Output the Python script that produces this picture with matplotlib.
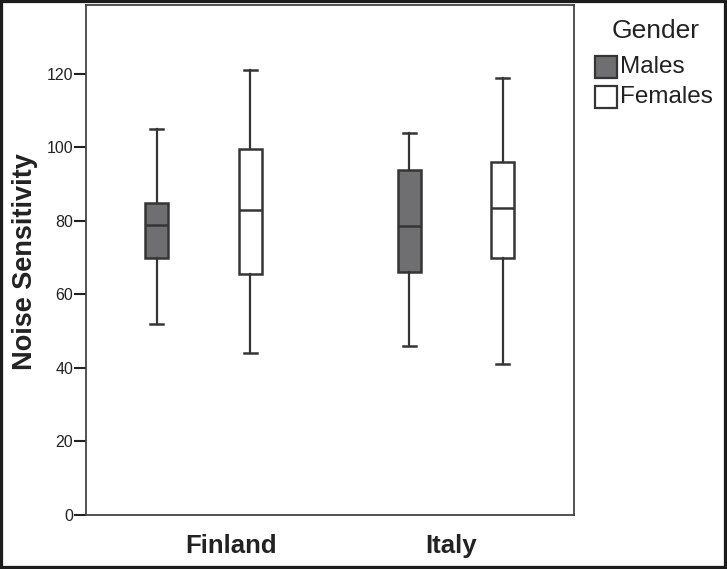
import matplotlib
matplotlib.use("Agg")
import matplotlib.pyplot as plt
from matplotlib.patches import Rectangle
from matplotlib import font_manager as fm

# ---- data ----
countries = ["Finland", "Italy"]
genders = ["Males", "Females"]
# [whislo, q1, med, q3, whishi]
finland_males = [52, 70, 79, 85, 105]
finland_females = [44, 65.5, 83, 99.5, 121]
italy_males = [46, 66, 78.5, 94, 104]
italy_females = [41, 70, 83.5, 96, 119]
y_ticks = [0, 20, 40, 60, 80, 100, 120]

series = {
    "Males": [finland_males, italy_males],
    "Females": [finland_females, italy_females],
}
colors = {"Males": "#6f6f71", "Females": "#ffffff"}

# tick-label font (narrow if available)
try:
    fm.findfont("Liberation Sans Narrow", fallback_to_default=False)
    tick_family = "Liberation Sans Narrow"
    tick_size = 13.5
except Exception:
    tick_family = "Liberation Sans"
    tick_size = 11.5

plt.rcParams["font.family"] = ["Liberation Sans", "DejaVu Sans"]

fig = plt.figure(figsize=(7.27, 5.69), dpi=100)
fig.patch.set_facecolor("white")
ax = fig.add_axes([85.7 / 727, 1 - 514.7 / 569, (574.3 - 85.7) / 727, (514.7 - 5) / 569])

edge = "#353535"
offset = 0.185
width = 0.092
for gi, g in enumerate(genders):
    stats = []
    for ci, c in enumerate(countries):
        lo, q1, med, q3, hi = series[g][ci]
        stats.append(dict(whislo=lo, q1=q1, med=med, q3=q3, whishi=hi, fliers=[], label=c))
    pos = [ci + (-offset if g == "Males" else offset) for ci in range(len(countries))]
    ax.bxp(stats, positions=pos, widths=width, patch_artist=True, showfliers=False,
           boxprops=dict(facecolor=colors[g], edgecolor=edge, linewidth=1.8),
           medianprops=dict(color=edge, linewidth=1.8),
           whiskerprops=dict(color=edge, linewidth=1.6),
           capprops=dict(color=edge, linewidth=1.8),
           capwidths=width * 0.55, manage_ticks=False)

ax.set_xlim(-0.4665, 1.4685)
ax.set_ylim(0, 138.8)
ax.set_yticks(y_ticks)
ax.set_yticklabels([str(v) for v in y_ticks], family=tick_family, fontsize=tick_size, color="#222222")
ax.tick_params(axis="y", length=8.5, width=1.5, color="#222222", pad=0.5)

label_pos = [0.109, 0.98]
ax.set_xticks(label_pos)
ax.set_xticklabels(countries, fontsize=18.5, fontweight="bold", color="#222222")
ax.tick_params(axis="x", length=0, pad=14)

for s in ax.spines.values():
    s.set_color("#444444")
    s.set_linewidth(1.3)

ax.set_ylabel("Noise Sensitivity", fontsize=19.5, fontweight="bold", color="#222222")
ax.yaxis.set_label_coords(-0.0976, 0.497)

# legend
W, H = 727.0, 569.0
fig.text(656 / W, 1 - 31 / H, "Gender", ha="center", va="center", fontsize=19, color="#222222")
for i, g in enumerate(genders):
    y_top = 56 + 30 * i
    fig.add_artist(Rectangle((595 / W, 1 - (y_top + 22) / H), 22 / W, 22 / H,
                             transform=fig.transFigure, facecolor=colors[g],
                             edgecolor=edge, linewidth=1.6))
    fig.text(620 / W, 1 - (y_top + 11) / H, g, ha="left", va="center", fontsize=17.5, color="#222222")

# dark frame around the image
fig.add_artist(Rectangle((0, 0), 1, 1, transform=fig.transFigure, fill=False,
                         edgecolor="#1c1c1c", linewidth=4.5))

fig.savefig("out.png", dpi=100, facecolor="white")
